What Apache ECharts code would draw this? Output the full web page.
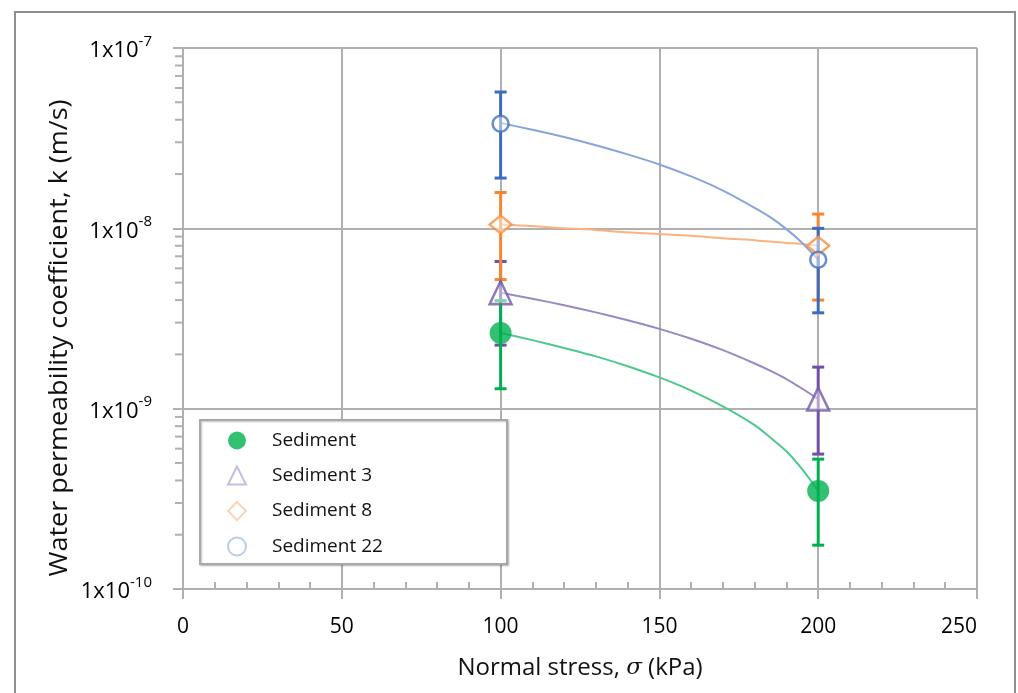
<!DOCTYPE html>
<html><head><meta charset="utf-8">
<script src="https://cdn.jsdelivr.net/npm/echarts@6/dist/echarts.min.js"></script>
<style>html,body{margin:0;padding:0;background:#fff}#c{width:1018px;height:693px}</style>
</head><body><div id="c"></div>
<script>
// ---- data ----
const stress = [100, 200];
const seriesNames = ['Sediment', 'Sediment 3', 'Sediment 8', 'Sediment 22'];

const kSediment   = [2.63e-9, 3.5e-10];
const errSediment = [1.34e-9, 1.75e-10];
const kSediment3   = [4.4e-9, 1.13e-9];
const errSediment3 = [2.15e-9, 0.57e-9];
const kSediment8   = [1.05e-8, 8.0e-9];
const errSediment8 = [5.3e-9, 4.0e-9];
const kSediment22   = [3.8e-8, 6.7e-9];
const errSediment22 = [1.9e-8, 3.3e-9];

// trend curves
const trendX = [100, 110, 120, 130, 140, 150, 160, 170, 180, 185, 190, 195, 200];
const trendSediment   = [2.63e-9, 2.40e-9, 2.17e-9, 1.95e-9, 1.72e-9, 1.49e-9, 1.26e-9, 1.03e-9, 0.81e-9, 0.69e-9, 0.58e-9, 0.46e-9, 0.35e-9];
const trendSediment3  = [4.40e-9, 4.07e-9, 3.75e-9, 3.42e-9, 3.09e-9, 2.77e-9, 2.44e-9, 2.11e-9, 1.78e-9, 1.62e-9, 1.46e-9, 1.29e-9, 1.13e-9];
const trendSediment8  = [10.5e-9, 10.3e-9, 10.0e-9, 9.8e-9, 9.5e-9, 9.3e-9, 9.1e-9, 8.8e-9, 8.6e-9, 8.45e-9, 8.3e-9, 8.2e-9, 8.0e-9];
const trendSediment22 = [38.4e-9, 35.2e-9, 32.1e-9, 28.9e-9, 25.7e-9, 22.6e-9, 19.4e-9, 16.2e-9, 13.0e-9, 11.5e-9, 9.9e-9, 8.3e-9, 6.7e-9];

const xTicks = [0, 50, 100, 150, 200, 250];
const yTicks = [1e-10, 1e-9, 1e-8, 1e-7];
const yMinorTicks = [2e-10,3e-10,4e-10,5e-10,6e-10,7e-10,8e-10,9e-10,
                     2e-9,3e-9,4e-9,5e-9,6e-9,7e-9,8e-9,9e-9,
                     2e-8,3e-8,4e-8,5e-8,6e-8,7e-8,8e-8,9e-8];
const xTitle = 'Normal stress, {i|σ} (kPa)';
const yTitle = 'Water permeability coefficient, k (m/s)';

// ---- styling ----
const C = {
  green:  {mark:'#00b050', err:'#00b050', trend:'#4fc98b', pale:'#00b050'},
  purple: {mark:'#7457a8', err:'#7050a6', trend:'#9a88c4', pale:'#b9acd8'},
  orange: {mark:'#f7903e', err:'#f7862e', trend:'#fbb27c', pale:'#fbc8a2'},
  blue:   {mark:'#4472c4', err:'#3a6cc2', trend:'#86a6da', pale:'#a9bfe4'}
};
const gridColor = '#b0b0b0';
const latin = '"Open Sans", "Noto Sans", sans-serif';
const narrow = '"Liberation Sans Narrow", "Open Sans", sans-serif';

function pairs(xs, ys) { return xs.map((x, i) => [x, ys[i]]); }
function errData(k, e) { return stress.map((s, i) => [s, k[i] - e[i], k[i] + e[i]]); }
function errSeries(k, e, color) {
  return {
    type: 'custom', name: '', silent: true, z: 3,
    encode: {x: 0, y: [1, 2]},
    data: errData(k, e),
    renderItem: function (params, api) {
      const x = api.value(0);
      const top = api.coord([x, api.value(2)]);
      const bot = api.coord([x, api.value(1)]);
      const w = 6;
      const st = {stroke: color, lineWidth: 3};
      return {type: 'group', children: [
        {type: 'line', shape: {x1: top[0], y1: top[1], x2: bot[0], y2: bot[1]}, style: st},
        {type: 'line', shape: {x1: top[0] - w, y1: top[1], x2: top[0] + w, y2: top[1]}, style: st},
        {type: 'line', shape: {x1: bot[0] - w, y1: bot[1], x2: bot[0] + w, y2: bot[1]}, style: st}
      ]};
    }
  };
}
function trendSeries(vals, color) {
  return {type: 'line', name: '', data: pairs(trendX, vals), smooth: 0.25,
    showSymbol: false, symbol: 'none', silent: true, z: 2,
    lineStyle: {color: color, width: 2}};
}

const chart = echarts.init(document.getElementById('c'), null, {renderer: 'canvas'});
chart.setOption({
  animation: false,
  backgroundColor: '#fff',
  grid: {left: 183, right: 41, top: 48, bottom: 104, outerBoundsMode: 'none', containLabel: false},
  graphic: [
    {type: 'rect', z: 0, shape: {x: 15, y: 12, width: 1000, height: 720},
     style: {fill: 'none', stroke: '#8f8f8f', lineWidth: 2}},
    {type: 'rect', z: 3, shape: {x: 200, y: 420, width: 307, height: 144},
     style: {fill: '#fff', stroke: '#a8a8a8', lineWidth: 2, shadowBlur: 2, shadowOffsetX: 1, shadowOffsetY: 1, shadowColor: 'rgba(0,0,0,0.25)'}},
    {type: 'text', z: 3, x: 60, y: 338, rotation: Math.PI / 2, scaleX: 1.08,
     style: {text: yTitle, font: '25px "Open Sans", "Noto Sans", sans-serif', fill: '#111',
             align: 'center', verticalAlign: 'middle'}}
  ],
  legend: {
    orient: 'vertical', left: 227, top: 431, z: 5,
    itemWidth: 18, itemHeight: 18, itemGap: 15.5, padding: 0, symbolKeepAspect: true,
    textStyle: {fontFamily: latin, fontSize: 19, color: '#111', padding: [5, 0, 0, 21]},
    data: [
      {name: seriesNames[0], icon: 'circle', itemStyle: {color: C.green.pale, borderWidth: 0}},
      {name: seriesNames[1], icon: 'triangle', itemStyle: {color: '#fff', borderColor: C.purple.pale, borderWidth: 2}},
      {name: seriesNames[2], icon: 'diamond', itemStyle: {color: '#fff', borderColor: C.orange.pale, borderWidth: 2}},
      {name: seriesNames[3], icon: 'circle', itemStyle: {color: '#fff', borderColor: C.blue.pale, borderWidth: 2}}
    ]
  },
  xAxis: [{
    type: 'value', min: 0, max: 250, interval: 50,
    name: xTitle, nameLocation: 'middle', nameGap: 67,
    nameTextStyle: {fontFamily: narrow, fontSize: 24, color: '#111',
      rich: {i: {fontFamily: '"DejaVu Serif", serif', fontStyle: 'italic', fontSize: 23, color: '#111'}}},
    axisLine: {show: true, lineStyle: {color: gridColor, width: 2}},
    axisTick: {show: true, inside: false, length: 10, lineStyle: {color: gridColor, width: 2}},
    axisLabel: {margin: 28, fontFamily: narrow, fontSize: 21, color: '#000', alignMaxLabel: 'right',
      formatter: v => xTicks.indexOf(v) >= 0 ? String(v) : ''},
    splitLine: {show: true, lineStyle: {color: gridColor, width: 2}}
  }, {
    type: 'value', min: 0, max: 250, interval: 10, position: 'bottom',
    axisLine: {show: false}, axisLabel: {show: false}, splitLine: {show: false},
    axisTick: {show: true, inside: true, length: 7, lineStyle: {color: gridColor, width: 2}}
  }],
  yAxis: {
    type: 'log', logBase: 10, min: 1e-10, max: 1e-7,
    axisLine: {show: true, lineStyle: {color: gridColor, width: 2}},
    axisTick: {show: true, inside: false, length: 10, lineStyle: {color: gridColor, width: 2}},
    axisLabel: {margin: 31, color: '#000',
      formatter: v => '{b|1x10}{s|' + Math.round(Math.log10(v)) + '}',
      rich: {b: {fontFamily: latin, fontSize: 22, color: '#000', lineHeight: 28, verticalAlign: 'bottom'},
             s: {fontFamily: latin, fontSize: 15, color: '#000', verticalAlign: 'top', lineHeight: 28, padding: [0, 0, 10, 0]}}},
    splitLine: {show: true, lineStyle: {color: gridColor, width: 2}}
  },
  series: [
    {type: 'custom', name: '', silent: true, z: 1, encode: {x: 0, y: 1},
     data: yMinorTicks.map(v => [0, v]),
     renderItem: function (params, api) {
       const p = api.coord([0, api.value(1)]);
       return {type: 'line', shape: {x1: p[0] - 8, y1: p[1], x2: p[0], y2: p[1]},
               style: {stroke: gridColor, lineWidth: 2}};
     }},
    trendSeries(trendSediment, C.green.trend),
    trendSeries(trendSediment3, C.purple.trend),
    trendSeries(trendSediment8, C.orange.trend),
    trendSeries(trendSediment22, C.blue.trend),
    errSeries(kSediment3, errSediment3, C.purple.err),
    errSeries(kSediment8, errSediment8, C.orange.err),
    errSeries(kSediment22, errSediment22, C.blue.err),
    errSeries(kSediment, errSediment, C.green.err),
    {type: 'scatter', name: seriesNames[1], data: pairs(stress, kSediment3), z: 4,
     symbol: 'triangle', symbolSize: [22, 23],
     itemStyle: {color: 'rgba(255,255,255,0.6)', borderColor: C.purple.mark, borderWidth: 2.5}},
    {type: 'scatter', name: seriesNames[2], data: pairs(stress, kSediment8), z: 4,
     symbol: 'diamond', symbolSize: [22, 18],
     itemStyle: {color: 'rgba(255,255,255,0.6)', borderColor: C.orange.mark, borderWidth: 2.5}},
    {type: 'scatter', name: seriesNames[3], data: pairs(stress, kSediment22), z: 4,
     symbol: 'circle', symbolSize: 16,
     itemStyle: {color: 'rgba(255,255,255,0.6)', borderColor: C.blue.mark, borderWidth: 2.5}},
    {type: 'scatter', name: seriesNames[0], data: pairs(stress, kSediment), z: 4,
     symbol: 'circle', symbolSize: 22,
     itemStyle: {color: C.green.mark, borderWidth: 0}}
  ]
});
</script></body></html>
